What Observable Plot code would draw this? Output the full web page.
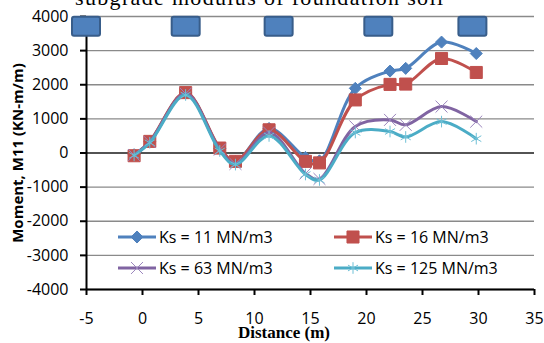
<!DOCTYPE html>
<html><head><meta charset="utf-8">
<script src="https://cdn.jsdelivr.net/npm/d3@7"></script>
<script src="https://cdn.jsdelivr.net/npm/@observablehq/plot@0.6"></script>
<style>
body{margin:0;background:#fff;}
#chart{position:relative;width:544px;height:343px;overflow:hidden;background:#fff;}
</style></head><body><div id="chart"></div>
<script>
// ---- data ----
const distance = [-0.75, 0.65, 3.85, 6.9, 8.3, 11.3, 14.55, 15.8, 19.0, 22.1, 23.5, 26.7, 29.8];
const ks11  = [-50, 330, 1760, 130, -250, 720, -130, -230, 1895, 2400, 2480, 3250, 2915];
const ks16  = [-80, 340, 1770, 145, -245, 680, -245, -290, 1555, 2010, 2020, 2770, 2360];
const ks63  = [-60, 320, 1740, 100, -320, 600, -600, -760, 780, 970, 825, 1360, 920];
const ks125 = [-70, 300, 1700, 60, -340, 500, -630, -790, 600, 630, 470, 920, 420];
const seriesNames = ["Ks = 11 MN/m3", "Ks = 16 MN/m3", "Ks = 63 MN/m3", "Ks = 125 MN/m3"];
const seriesColors = ["#4F81BD", "#C0504D", "#8064A2", "#4BACC6"];
const columnX = [-5, 3.9, 12.2, 21.1, 29.5];
const columnY = 3700;
const xTicks = [-5, 0, 5, 10, 15, 20, 25, 30, 35];
const yTicks = [-4000, -3000, -2000, -1000, 0, 1000, 2000, 3000, 4000];
const titleText = "subgrade modulus of foundation soil";
const xLabel = "Distance (m)";
const yLabel = "Moment, M11 (KN-m/m)";

// ---- build table ----
const allSeries = [ks11, ks16, ks63, ks125];
const rows = [];
allSeries.forEach((vals, i) => vals.forEach((v, j) => rows.push({series: seriesNames[i], idx: i, x: distance[j], y: v})));
const bySeries = i => rows.filter(r => r.idx === i);

const diamondSym = {draw(ctx, size){ const a = Math.sqrt(size/2); ctx.moveTo(0,-a); ctx.lineTo(a,0); ctx.lineTo(0,a); ctx.lineTo(-a,0); ctx.closePath(); }};

const colors = seriesColors;
const marks = [
  Plot.ruleY(yTicks, {stroke: d => d === 0 ? "#1a1a1a" : "#8a8a8a", strokeWidth: 1.3}),
  Plot.axisY(yTicks, {tickSize: 6, tickPadding: 12, strokeWidth: 2, color: "#000", fontSize: 16, tickFormat: d => String(d), label: null}),
  Plot.axisX(xTicks, {tickSize: 6, tickPadding: 17, strokeWidth: 2, color: "#000", fontSize: 16, tickFormat: d => String(d), label: null}),
  Plot.ruleX([-5], {stroke: "#000", strokeWidth: 2}),
  Plot.ruleY([-4000], {stroke: "#000", strokeWidth: 2}),
];
for (let i = 0; i < 4; i++) {
  const d = bySeries(i);
  marks.push(Plot.line(d, {x: "x", y: "y", stroke: colors[i], strokeWidth: 3, curve: "catmull-rom"}));
  if (i === 0) marks.push(Plot.dot(d, {x: "x", y: "y", symbol: diamondSym, r: 4.8, fill: colors[i], stroke: colors[i], strokeWidth: 1}));
  if (i === 1) marks.push(Plot.dot(d, {x: "x", y: "y", symbol: "square", r: 6.8, fill: colors[i], stroke: colors[i], strokeWidth: 1}));
  if (i === 2) marks.push(Plot.dot(d, {x: "x", y: "y", symbol: "times", r: 5.5, stroke: "#9B85BD", strokeWidth: 1}));
  if (i === 3) marks.push(Plot.dot(d, {x: "x", y: "y", symbol: "asterisk", r: 5.5, stroke: "#6FC0D6", strokeWidth: 1}));
}
marks.push(Plot.rect(columnX, {x1: d => d - 1.25, x2: d => d + 1.25, y1: () => columnY - 280, y2: () => columnY + 280, fill: "#4F81BD", stroke: "#385D8A", strokeWidth: 2, rx: 2}));

const plot = Plot.plot({
  width: 544, height: 343,
  marginLeft: 86, marginRight: 10, marginTop: 16, marginBottom: 54,
  style: {background: "#fff", fontFamily: "'Open Sans', sans-serif", fontSize: "16px", overflow: "visible"},
  x: {domain: [-5, 35]},
  y: {domain: [-4000, 4000]},
  marks
});
document.getElementById("chart").appendChild(plot);

// ---- extra text & legend ----
const svg = d3.select(plot);
svg.append("text").attr("x", 75).attr("y", 5).attr("text-anchor", "start").attr("font-family", "'Liberation Serif', serif").attr("font-size", 22)
  .attr("textLength", 368).attr("fill", "#000").text(titleText);
svg.append("text").attr("x", 284).attr("y", 338).attr("text-anchor", "middle")
  .attr("font-family", "'Liberation Serif', serif").attr("font-weight", "bold").attr("font-size", 17).attr("fill", "#000").text(xLabel);
svg.append("text").attr("transform", "translate(23,153) rotate(-90)").attr("text-anchor", "middle")
  .attr("font-family", "'Open Sans', sans-serif").attr("font-weight", "bold").attr("font-size", 15).attr("fill", "#000").text(yLabel);

const legendPos = [[118, 237], [334, 237], [118, 268], [334, 268]];
const legSymbols = [diamondSym, d3.symbolSquare, d3.symbolTimes, d3.symbolAsterisk];
const legSizes = [Math.PI*4.8*4.8, Math.PI*6.8*6.8, Math.PI*5.5*5.5, Math.PI*5.5*5.5];
seriesNames.forEach((name, i) => {
  const [lx, ly] = legendPos[i];
  const g = svg.append("g");
  g.append("line").attr("x1", lx).attr("x2", lx + 38).attr("y1", ly).attr("y2", ly).attr("stroke", colors[i]).attr("stroke-width", 3);
  const sym = d3.symbol(legSymbols[i], legSizes[i])();
  const filled = i < 2;
  g.append("path").attr("d", sym).attr("transform", `translate(${lx + 19},${ly})`)
    .attr("fill", filled ? colors[i] : "none").attr("stroke", filled ? colors[i] : (i === 2 ? "#9B85BD" : "#6FC0D6")).attr("stroke-width", 1);
  g.append("text").attr("x", lx + 41).attr("y", ly).attr("dy", "0.35em").attr("text-anchor", "start").attr("font-family", "'Open Sans', sans-serif")
    .attr("font-size", 16).attr("fill", "#000").text(name);
});
</script></body></html>
